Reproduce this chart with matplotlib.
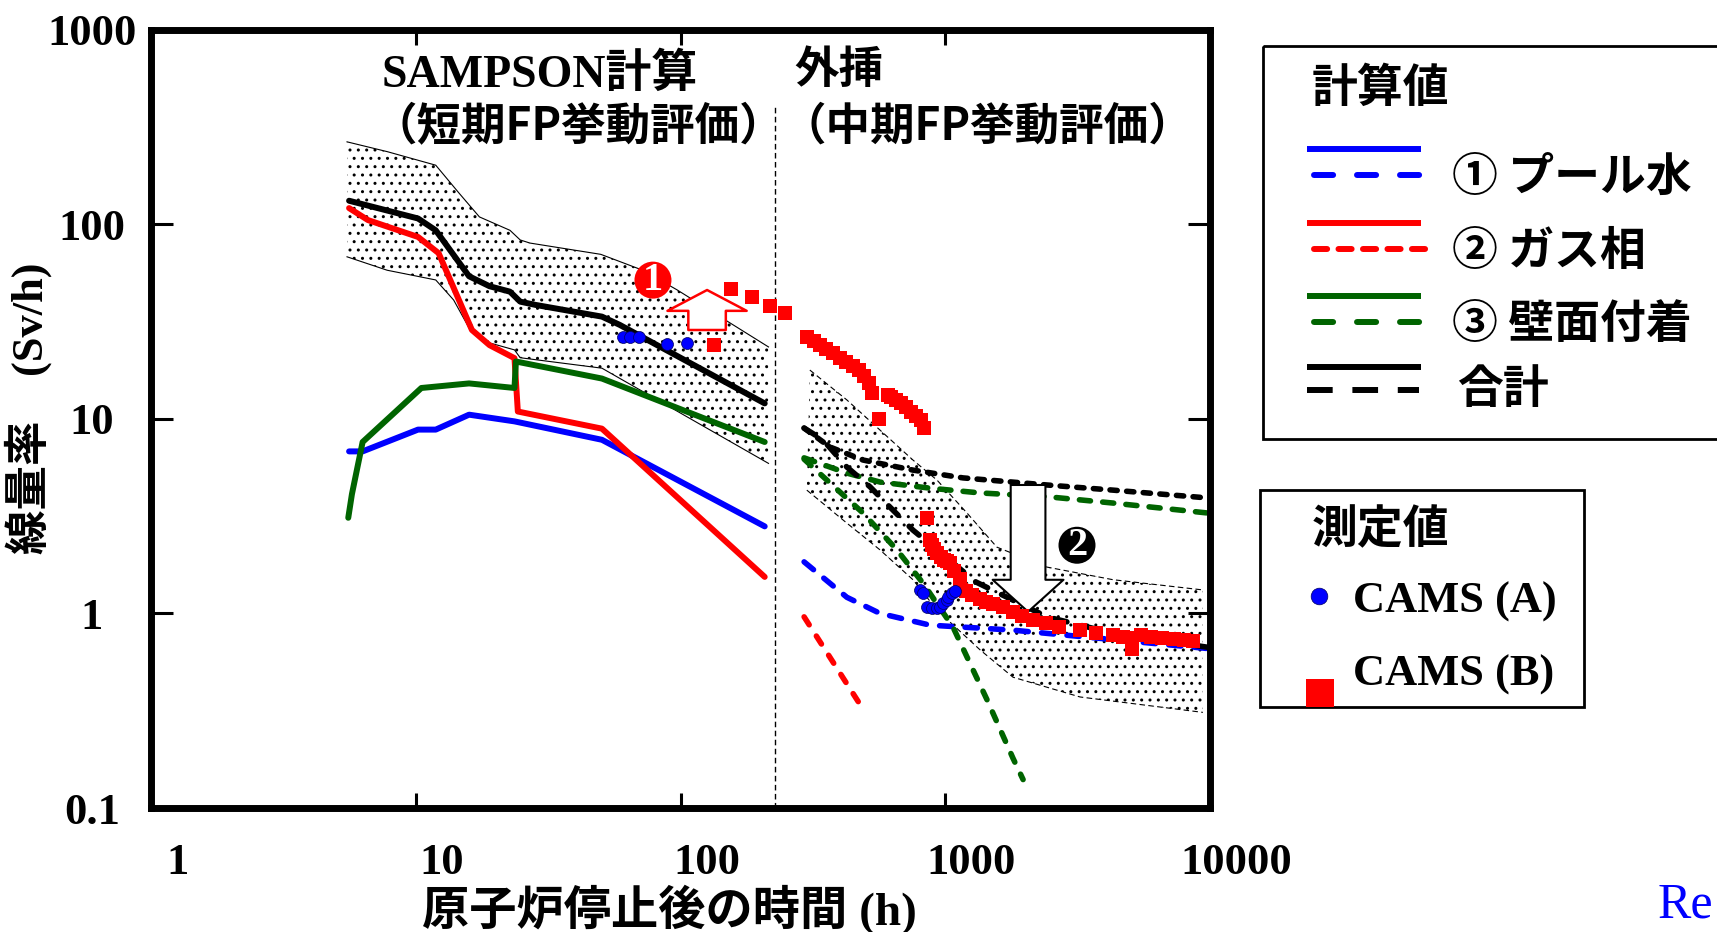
import numpy as np
import matplotlib
matplotlib.use('Agg')
import matplotlib.pyplot as plt
from matplotlib.patches import Rectangle
from matplotlib.transforms import ScaledTranslation

JP = 'Noto Sans CJK JP'
SERIF = 'Liberation Serif'
plt.rcParams['font.family'] = [SERIF, JP]
plt.rcParams['font.weight'] = 'bold'
plt.rcParams['axes.labelweight'] = 'bold'
plt.rcParams['hatch.linewidth'] = 1.0

BLUE = '#0000FF'
RED = '#FF0000'
GREEN = '#006400'

# --- SAMPSON calculation (time after shutdown [h], dose rate [Sv/h]) ---
pool_t = [5.6, 6.3, 10.2, 11.9, 15.9, 23.6, 50.5, 208]
pool_v = [6.8, 6.8, 8.8, 8.8, 10.5, 9.7, 7.8, 2.8]

gas_t = [5.6, 6.6, 10.2, 12.2, 16.3, 19.0, 23.6, 24.3, 50.5, 208]
gas_v = [121, 105, 86, 71, 28.6, 23.9, 20.5, 10.9, 8.9, 1.54]

wall_t = [5.56, 5.74, 6.3, 10.5, 15.9, 23.6, 23.9, 50.5, 208]
wall_v = [3.1, 4.1, 7.6, 14.4, 15.2, 14.4, 19.7, 16.1, 7.6]

total_t = [5.6, 10.2, 11.9, 15.9, 19.0, 22.7, 24.8, 28.3, 50.5, 58.9, 208]
total_v = [132, 107, 93, 54, 48, 45, 40, 38.5, 33.5, 30.4, 12.0]

band1_up_t = [5.5, 7.8, 11.9, 14.6, 17.4, 22.7, 24.8, 27, 50, 72, 97, 215]
band1_up_v = [265, 236, 201, 144, 109, 93, 83, 80, 70, 58, 46, 23.4]
band1_lo_t = [5.5, 7.8, 11.9, 13.9, 15.9, 19.1, 23.6, 24.8, 50.5, 215]
band1_lo_v = [68, 58, 51.7, 40.8, 29.3, 24.5, 22.6, 20.6, 18.2, 5.9]

# --- extrapolation (mid-term) ---
pool_ext_t = [293, 425, 567, 877, 1353, 1803, 9800]
pool_ext_v = [1.84, 1.21, 1.0, 0.87, 0.84, 0.82, 0.66]

gas_ext_t = [293, 498]
gas_ext_v = [0.96, 0.31]

wall_ext1_t = [293, 425, 567, 877, 1353, 2421, 4300, 9800]
wall_ext1_v = [6.3, 5.26, 4.73, 4.4, 4.16, 3.98, 3.69, 3.28]
wall_ext2_t = [293, 367, 489, 657, 824, 1070, 1438, 1803, 1968]
wall_ext2_v = [6.2, 4.68, 3.28, 2.12, 1.43, 0.85, 0.36, 0.18, 0.14]

total_ext1_t = [293, 367, 489, 755, 1166, 2421, 4300, 9800]
total_ext1_v = [8.96, 7.16, 6.14, 5.45, 4.97, 4.57, 4.3, 3.92]
total_ext2_t = [293, 345, 425, 520, 618, 755, 1306, 2421, 4300, 9800]
total_ext2_v = [8.96, 7.8, 5.65, 4.47, 3.52, 2.68, 1.45, 0.96, 0.79, 0.67]

band2_up_t = [308, 425, 567, 755, 931, 1208, 1567, 2421, 4300, 9400]
band2_up_v = [17.8, 12.5, 8.75, 6.14, 4.84, 3.28, 2.19, 1.73, 1.49, 1.32]
band2_lo_t = [300, 425, 567, 755, 931, 1353, 1803, 3230, 9400]
band2_lo_v = [4.3, 2.91, 2.12, 1.49, 1.04, 0.65, 0.47, 0.372, 0.31]

# --- measurements ---
cams_a_t = [60.7, 64.5, 69.7, 88.9, 106,
            803, 826, 851, 889, 929, 955, 984, 1012, 1026, 1057, 1088]
cams_a_v = [26.3, 26.3, 26.3, 24.2, 24.4,
            1.32, 1.27, 1.08, 1.06, 1.06, 1.08, 1.13, 1.17, 1.22, 1.27, 1.31]

cams_b_t = [134, 155, 186, 218, 248,
            300, 318, 336, 356, 377, 400, 422, 447, 472, 495, 515, 529,
            562,
            610, 624, 650, 680, 710, 743, 775, 809, 831,
            853,
            877, 890, 905, 931, 960, 990, 1016, 1042, 1080, 1137, 1150,
            1197, 1260, 1353, 1425, 1520, 1650, 1803, 1950, 2145, 2400,
            2700, 3230, 3700, 4300, 4700, 5080, 5080, 5500, 6000, 6600,
            7300, 8000, 8630]
cams_b_v = [23.9, 46.4, 42.3, 37.9, 34.9,
            26.3, 25.0, 23.9, 22.8, 21.8, 20.6, 19.6, 18.7, 17.8, 16.5, 15.3, 13.6,
            10.0,
            13.3, 13.0, 12.5, 12.1, 11.5, 10.8, 10.3, 9.9, 9.0,
            3.09,
            2.38, 2.25, 2.15, 2.04, 1.95, 1.88, 1.85, 1.82, 1.65, 1.5, 1.32,
            1.3, 1.25, 1.18, 1.15, 1.12, 1.08, 1.02, 0.97, 0.93, 0.89,
            0.85, 0.82, 0.79, 0.77, 0.76, 0.66, 0.75, 0.77, 0.76, 0.75,
            0.74, 0.73, 0.72]

x_ticks = [1, 10, 100, 1000, 10000]
x_ticklabels = ['1', '10', '100', '1000', '10000']
y_ticks = [0.1, 1, 10, 100, 1000]
y_ticklabels = ['0.1', '1', '10', '100', '1000']

W, H = 1717, 932
fig = plt.figure(figsize=(W / 100, H / 100), dpi=100)
ax = fig.add_axes([151 / W, 1 - 808 / H, 1059 / W, 778.4 / H])
ax.set_xscale('log')
ax.set_yscale('log')
ax.set_xlim(1, 10000)
ax.set_ylim(0.1, 1000)

# uncertainty bands
ax.fill(band1_up_t + band1_lo_t[::-1], band1_up_v + band1_lo_v[::-1],
        facecolor='none', edgecolor='black', hatch='..', lw=0, zorder=1)
ax.plot(band1_up_t, band1_up_v, color='black', lw=0.8, zorder=1)
ax.plot(band1_lo_t, band1_lo_v, color='black', lw=0.8, zorder=1)
ax.fill(band2_up_t + band2_lo_t[::-1], band2_up_v + band2_lo_v[::-1],
        facecolor='none', edgecolor='black', hatch='..', lw=0, zorder=1)
ax.plot(band2_up_t, band2_up_v, color='black', lw=0.8, dashes=(5, 3), zorder=1)
ax.plot(band2_lo_t, band2_lo_v, color='black', lw=0.8, dashes=(5, 3), zorder=1)

ax.axvline(228, ymin=0, ymax=0.9, color='black', lw=1.0, dashes=(4, 2.5), zorder=1)

# calculated curves
lw = 4.3
ax.plot(pool_t, pool_v, color=BLUE, lw=lw, solid_capstyle='round', zorder=2)
ax.plot(gas_t, gas_v, color=RED, lw=lw, solid_capstyle='round', zorder=2)
ax.plot(wall_t, wall_v, color=GREEN, lw=lw, solid_capstyle='round', zorder=2)
ax.plot(total_t, total_v, color='black', lw=lw, solid_capstyle='round', zorder=2)

dl = 4.0
ax.plot(pool_ext_t, pool_ext_v, color=BLUE, lw=dl, dashes=(2.2, 2.4),
        dash_capstyle='round', zorder=2)
ax.plot(gas_ext_t, gas_ext_v, color=RED, lw=dl, dashes=(1.7, 2.4),
        dash_capstyle='round', zorder=2)
ax.plot(wall_ext1_t, wall_ext1_v, color=GREEN, lw=dl, dashes=(2.0, 2.2),
        dash_capstyle='round', zorder=2)
ax.plot(wall_ext2_t, wall_ext2_v, color=GREEN, lw=dl, dashes=(1.7, 2.4),
        dash_capstyle='round', zorder=2)
ax.plot(total_ext1_t, total_ext1_v, color='black', lw=dl, dashes=(1.3, 1.7),
        dash_capstyle='round', zorder=2)
ax.plot(total_ext2_t, total_ext2_v, color='black', lw=dl, dashes=(2.4, 2.8),
        dash_capstyle='round', zorder=2)

# arrows and marks
ax.annotate('', xy=(126, 45.9), xytext=(126, 28.6),
            arrowprops=dict(arrowstyle='simple,head_width=57,head_length=15,tail_width=27',
                            mutation_scale=1, fc='white', ec=RED, lw=1.8,
                            shrinkA=0, shrinkB=0), zorder=3)
ax.annotate('', xy=(2055, 1.02), xytext=(2055, 4.57),
            arrowprops=dict(arrowstyle='simple,head_width=51,head_length=23,tail_width=25',
                            mutation_scale=1, fc='white', ec='black', lw=1.5,
                            shrinkA=0, shrinkB=0), zorder=3)
ax.text(78.7, 51.6, '1', color='white', fontsize=29, ha='center', va='center',
        bbox=dict(boxstyle='circle,pad=0', fc=RED, ec='none'), zorder=6)
ax.text(3145, 2.24, '2', color='white', fontsize=29, ha='center', va='center',
        bbox=dict(boxstyle='circle,pad=0', fc='black', ec='none'), zorder=6)

# measurements
ax.plot(cams_b_t, cams_b_v, 's', color=RED, ms=9.4, mew=0, zorder=4)
ax.plot(cams_a_t, cams_a_v, 'o', color=BLUE, mec='#000060', mew=0.5, ms=8.6, zorder=5)

# axes styling
for sp in ax.spines.values():
    sp.set_linewidth(5)
ax.minorticks_off()
ax.tick_params(which='major', direction='in', top=True, right=True, width=2.2,
               labelsize=32)
ax.tick_params(axis='x', length=11, pad=25)
ax.tick_params(axis='y', length=16, pad=42.5)
ax.set_xticks(x_ticks)
ax.set_xticklabels(x_ticklabels)
ax.set_yticks(y_ticks)
ax.set_yticklabels(y_ticklabels)
ax.minorticks_off()
shift = ScaledTranslation(0.26, 0, fig.dpi_scale_trans)
for lab in ax.get_xticklabels():
    lab.set_transform(lab.get_transform() + shift)
for lab in ax.get_yticklabels():
    lab.set_horizontalalignment('center')

ax.set_xlabel('原子炉停止後の時間 (h)', fontsize=34, fontweight='bold', va='center')
ax.xaxis.set_label_coords(0.490, -0.131)
ax.set_ylabel('線量率\u3000(Sv/h)', fontsize=32, fontweight='bold',
              va='center', ha='center')
ax.yaxis.set_label_coords(-0.116, 0.513)

# overlay in pixel coordinates for texts and legends
ov = fig.add_axes([0, 0, 1, 1], zorder=5)
ov.set_xlim(0, W)
ov.set_ylim(H, 0)
ov.axis('off')

ov.text(382, 87, 'SAMPSON計算', fontsize=33, ha='left', va='baseline')
ov.text(794, 70, '外挿', fontsize=32, family=JP, ha='left', va='center')
ov.text(578, 127, '（短期FP挙動評価）', fontsize=32, family=JP, weight='bold',
        ha='center', va='center')
ov.text(987, 127, '（中期FP挙動評価）', fontsize=32, family=JP, weight='bold',
        ha='center', va='center')

# legend: calculated values
ov.add_patch(Rectangle((1263, 46), 480, 393, fill=False, ec='black', lw=2))
ov.text(1312, 89, '計算値', fontsize=33, family=JP, ha='left', va='center')
leg_x = [1307, 1421]
ov.plot(leg_x, [149, 149], color=BLUE, lw=4.3, solid_capstyle='butt')
ov.plot([1314, 1422], [175, 175], color=BLUE, lw=4.3, dashes=(3.2, 4.0),
        dash_capstyle='round')
ov.plot(leg_x, [223, 223], color=RED, lw=4.3, solid_capstyle='butt')
ov.plot([1314, 1426], [249, 249], color=RED, lw=4.3, dashes=(2.2, 1.9),
        dash_capstyle='round')
ov.plot(leg_x, [296, 296], color=GREEN, lw=4.3, solid_capstyle='butt')
ov.plot([1314, 1422], [322, 322], color=GREEN, lw=4.3, dashes=(3.2, 4.0),
        dash_capstyle='round')
ov.plot(leg_x, [367, 367], color='black', lw=4.3, solid_capstyle='butt')
ov.plot([1307, 1419], [390, 390], color='black', lw=4.3, dashes=(4.3, 3.3),
        dash_capstyle='butt')
ov.text(1452, 178, '① プール水', fontsize=33, family=JP, weight='bold', va='center')
ov.text(1452, 252, '② ガス相', fontsize=33, family=JP, weight='bold', va='center')
ov.text(1452, 325, '③ 壁面付着', fontsize=33, family=JP, weight='bold', va='center')
ov.text(1457, 390, '合計', fontsize=33, family=JP, weight='bold', va='center')

# legend: measured values
ov.add_patch(Rectangle((1260, 490), 324, 217, fill=False, ec='black', lw=2))
ov.text(1312, 530, '測定値', fontsize=33, family=JP, ha='left', va='center')
ov.plot([1319], [596], 'o', color=BLUE, mec='#000060', mew=0.5, ms=12)
ov.plot([1320], [693], 's', color=RED, mew=0, ms=19.5)
ov.text(1353, 602, 'CAMS (A)', fontsize=32, family=SERIF, va='center')
ov.text(1353, 675, 'CAMS (B)', fontsize=32, family=SERIF, va='center')

ov.text(1713, 929, 'Re', fontsize=36, family=SERIF, weight='normal',
        color=BLUE, ha='right', va='bottom')

fig.savefig('out.png', dpi=100)
